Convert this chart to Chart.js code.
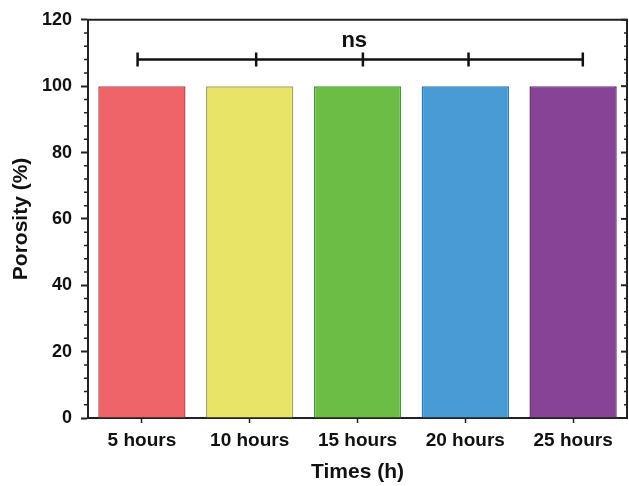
<!DOCTYPE html>
<html>
<head>
<meta charset="utf-8">
<script src="https://cdn.jsdelivr.net/npm/chart.js@4/dist/chart.umd.min.js"></script>
<style>
  html, body { margin: 0; padding: 0; background: #fff; }
  #wrap { width: 629px; height: 486px; }
</style>
</head>
<body>
<div id="wrap"><canvas id="porosityChart"></canvas></div>
<script>
const categories = ['5 hours', '10 hours', '15 hours', '20 hours', '25 hours'];
const porosity = [100, 100, 100, 100, 100];
const barColors = ['#EE6469', '#E8E468', '#6BBD45', '#489BD4', '#874496'];
const barBorders = ['#B8474C', '#A8A35A', '#3F9A35', '#2A78B4', '#62306F'];
const yTicks = [0, 20, 40, 60, 80, 100, 120];

// significance bracket (positions in category index units)
const bracketX = [-0.04, 1.06, 2.05, 3.03, 4.09];
const bracketY = 108;
const sigText = 'ns';
const sigPos = { x: 1.97, y: 113.5 };

const FONT = '"Liberation Sans", Arial, sans-serif';

// frame: top line, right axis, minor ticks, bracket and "ns" label
const framePlugin = {
    id: 'frame',
    afterDraw(chart) {
        const { ctx, chartArea: a, scales } = chart;
        const x = scales.x;
        const y = scales.y;
        ctx.save();
        ctx.strokeStyle = '#222';
        ctx.lineWidth = 2;
        ctx.beginPath();
        ctx.moveTo(a.left - 1, a.top);
        ctx.lineTo(a.right, a.top);
        ctx.lineTo(a.right, a.bottom + 1);
        ctx.stroke();

        for (let v = 0; v <= 120; v += 4) {
            const py = y.getPixelForValue(v);
            const major = v % 20 === 0;
            ctx.lineWidth = major ? 2 : 1.5;
            ctx.beginPath();
            if (!major) {
                ctx.moveTo(a.left, py);
                ctx.lineTo(a.left - 4, py);
            }
            ctx.moveTo(a.right, py);
            ctx.lineTo(a.right - (major ? 6 : 3), py);
            ctx.stroke();
        }

        // bracket
        const by = y.getPixelForValue(bracketY);
        const xs = bracketX.map(v => x.getPixelForValue(v));
        ctx.strokeStyle = '#111';
        ctx.lineWidth = 2.5;
        ctx.beginPath();
        ctx.moveTo(xs[0], by);
        ctx.lineTo(xs[xs.length - 1], by);
        xs.forEach(px => {
            ctx.moveTo(px, by - 7);
            ctx.lineTo(px, by + 7);
        });
        ctx.stroke();

        ctx.fillStyle = '#111';
        ctx.font = 'bold 22px ' + FONT;
        ctx.textAlign = 'center';
        ctx.textBaseline = 'middle';
        ctx.fillText(sigText, x.getPixelForValue(sigPos.x), y.getPixelForValue(sigPos.y));
        ctx.restore();
    }
};

const ctx = document.getElementById('porosityChart').getContext('2d');

new Chart(ctx, {
    type: 'bar',
    data: {
        labels: categories,
        datasets: [{
            label: 'Porosity',
            data: porosity,
            backgroundColor: barColors,
            borderColor: barBorders,
            borderWidth: 1.5,
            categoryPercentage: 1,
            barPercentage: 0.81
        }]
    },
    options: {
        responsive: true,
        maintainAspectRatio: false,
        animation: false,
        layout: { padding: { top: 18, right: 2, left: 0, bottom: 0 }, autoPadding: false },
        plugins: {
            legend: { display: false },
            tooltip: { enabled: false }
        },
        scales: {
            x: {
                offset: true,
                grid: { display: true, drawOnChartArea: false, offset: false, tickLength: 5, tickWidth: 1.5, tickColor: '#222' },
                border: { color: '#222', width: 2 },
                ticks: { color: '#111', padding: 6, font: { family: FONT, size: 19, weight: 'bold' } },
                title: {
                    display: true, text: 'Times (h)', color: '#111',
                    font: { family: FONT, size: 21, weight: 'bold' },
                    padding: { top: 0, bottom: 1 }
                },
                afterFit: (scale) => { scale.height = 68; }
            },
            y: {
                min: 0,
                max: 120,
                afterBuildTicks: (scale) => { scale.ticks = yTicks.map(v => ({ value: v })); },
                grid: { display: true, drawOnChartArea: false, tickLength: 7, tickWidth: 2, tickColor: '#222' },
                border: { color: '#222', width: 2 },
                ticks: { color: '#111', padding: 9, font: { family: FONT, size: 18, weight: 'bold' } },
                title: {
                    display: true, text: 'Porosity (%)', color: '#111',
                    font: { family: FONT, size: 21, weight: 'bold' },
                    padding: { top: 9, bottom: 0 }
                },
                afterFit: (scale) => { scale.width = 88; }
            }
        }
    },
    plugins: [framePlugin]
});
</script>
</body>
</html>
